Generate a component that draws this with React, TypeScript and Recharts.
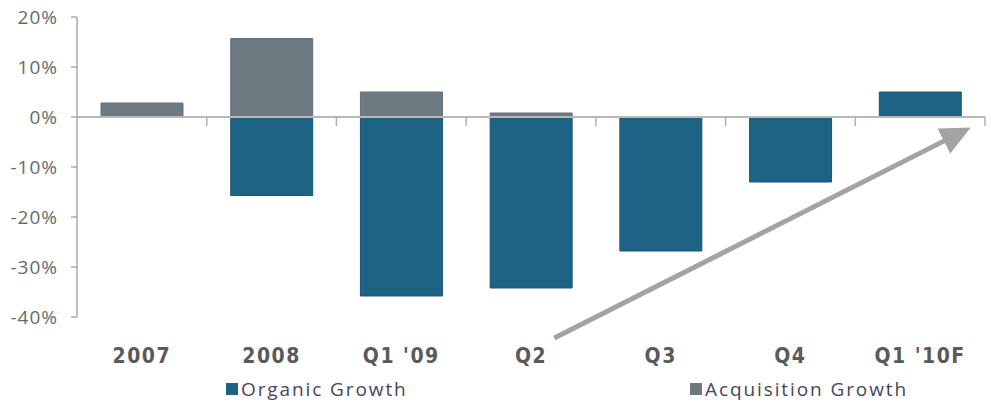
import React from 'react';
import { BarChart, Bar, XAxis, YAxis, ReferenceLine, Legend } from 'recharts';

const categories = ['2007', '2008', "Q1 '09", 'Q2', 'Q3', 'Q4', "Q1 '10F"];
const tickLabels = ['2007', '2008', "Q1 '09", 'Q2', 'Q3', 'Q4', "Q1 '10F"];
const organicGrowth = [0, -15.7, -35.8, -34.2, -26.8, -13.0, 5.0];
const acquisitionGrowth = [2.8, 15.7, 5.0, 0.8, 0, 0, 0];
const yTicks = [-40, -30, -20, -10, 0, 10, 20];
// arrow annotation: category + fraction of a category step from its centre, value in %
const arrowStart = { x: 'Q2', shift: 0.18, y: -44.2 };
const arrowEnd = { x: "Q1 '10F", shift: 0.39, y: -2.1 };

const CHART_W = 991;
const CHART_H = 408;
const MARGIN = { top: 17, right: 6, left: 0, bottom: 0 };
const Y_AXIS_W = 77;
const STEP = (CHART_W - MARGIN.left - MARGIN.right - Y_AXIS_W) / categories.length;

const BLUE = '#1f6384';
const GRAY = '#6e7a82';

const data = categories.map((c, i) => ({
  name: c,
  organic: organicGrowth[i],
  acquisition: acquisitionGrowth[i],
}));

const XTick = (props: any) => {
  const { x, y, index } = props;
  return (
    <text
      x={x}
      y={y}
      dy={46}
      textAnchor="middle"
      fill="#5a5a5a"
      fontFamily="'DejaVu Sans Condensed', 'DejaVu Sans', sans-serif"
      fontWeight="bold"
      fontSize={21}
      letterSpacing={1.5}
    >
      {tickLabels[index]}
    </text>
  );
};

const BoundaryTick = (props: any) => {
  const { x1, y1, x2, y2 } = props;
  return (
    <line x1={x1 + STEP / 2} y1={y1} x2={x2 + STEP / 2} y2={y2} stroke="#b0b0b0" strokeWidth={1.5} />
  );
};

const Arrow = (props: any) => {
  const x1 = props.x1 + arrowStart.shift * STEP;
  const x2 = props.x2 + arrowEnd.shift * STEP;
  const { y1, y2 } = props;
  const dx = x2 - x1;
  const dy = y2 - y1;
  const len = Math.sqrt(dx * dx + dy * dy);
  const ux = dx / len;
  const uy = dy / len;
  const headLen = 30;
  const headHalf = 14;
  const bx = x2 - ux * headLen;
  const by = y2 - uy * headLen;
  const px = -uy;
  const py = ux;
  return (
    <g>
      <line x1={x1} y1={y1} x2={bx + ux * 2} y2={by + uy * 2} stroke="#a3a3a3" strokeWidth={5} />
      <polygon
        points={`${x2},${y2} ${bx + px * headHalf},${by + py * headHalf} ${bx - px * headHalf},${by - py * headHalf}`}
        fill="#a3a3a3"
      />
    </g>
  );
};

const renderLegend = () => (
  <div style={{ position: 'relative', height: 41, width: CHART_W }}>
    {[
      { label: 'Organic Growth', color: BLUE, left: 226 },
      { label: 'Acquisition Growth', color: GRAY, left: 690 },
    ].map((item) => (
      <div
        key={item.label}
        style={{
          position: 'absolute',
          left: item.left,
          top: 9,
          display: 'flex',
          alignItems: 'center',
          fontFamily: "'Open Sans', sans-serif",
          fontSize: 19,
          letterSpacing: 1.9,
          color: '#46465a',
          lineHeight: '26px',
          whiteSpace: 'nowrap',
        }}
      >
        <span style={{ display: 'inline-block', width: 12, height: 12, background: item.color, marginRight: 3 }} />
        {item.label}
      </div>
    ))}
  </div>
);

export default function App() {
  return (
    <div style={{ position: 'absolute', left: 0, top: 0 }}>
      <BarChart width={CHART_W} height={CHART_H} data={data} stackOffset="sign" margin={MARGIN}>
        <XAxis
          dataKey="name"
          axisLine={false}
          tickLine={false}
          tickSize={0}
          tickMargin={0}
          height={50}
          interval={0}
          tick={<XTick />}
        />
        <YAxis
          domain={[-40, 20]}
          ticks={yTicks}
          width={Y_AXIS_W}
          tickFormatter={(v: number) => `${v}%`}
          tick={{ fill: '#6a6a6a', fontSize: 19, fontFamily: "'Open Sans', sans-serif", letterSpacing: 1 }}
          tickSize={6}
          tickMargin={13}
          axisLine={{ stroke: '#aaaaaa', strokeWidth: 1.5 }}
          tickLine={{ stroke: '#aaaaaa', strokeWidth: 1.5 }}
        />
        <Bar dataKey="organic" stackId="a" fill={BLUE} stroke="#1a5876" strokeWidth={1} barSize={82} isAnimationActive={false} />
        <Bar dataKey="acquisition" stackId="a" fill={GRAY} stroke="#65717a" strokeWidth={1} barSize={82} isAnimationActive={false} />
        <ReferenceLine y={0} stroke="#b8b8b8" strokeWidth={2} />
        {categories.map((c) => (
          <ReferenceLine
            key={c}
            segment={[{ x: c, y: 0 }, { x: c, y: -1.8 }]}
            ifOverflow="visible"
            shape={<BoundaryTick />}
          />
        ))}
        <ReferenceLine
          segment={[{ x: arrowStart.x, y: arrowStart.y }, { x: arrowEnd.x, y: arrowEnd.y }]}
          ifOverflow="visible"
          shape={<Arrow />}
        />
        <Legend verticalAlign="bottom" height={41} content={renderLegend} wrapperStyle={{ left: 0, width: CHART_W }} />
      </BarChart>
    </div>
  );
}
